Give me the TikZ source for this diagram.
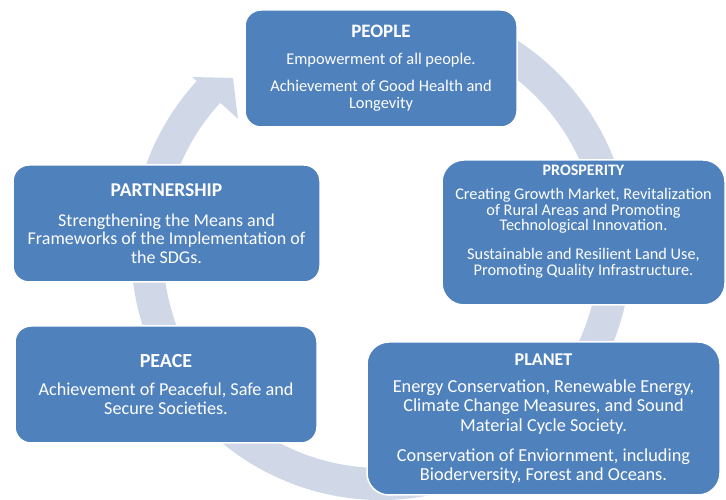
\documentclass[tikz,border=0pt]{standalone}
\usepackage{fontspec}
\setmainfont{Carlito}
\usetikzlibrary{calc,positioning}
\definecolor{boxblue}{HTML}{4F81BD}
\definecolor{ringblue}{HTML}{D0D8E8}
\newcommand{\goaltitle}[2]{{\fontsize{#1}{#1}\selectfont\bfseries #2}}
\tikzset{
	every node/.style={
		font=\fontsize{16.4}{17}\selectfont
	},
	goal/.style={
		shape=rectangle,
		fill=boxblue,
		draw=white,
		line width=1.5pt,
		text=white,
		align=center,
		inner sep=0pt,
		rounded corners=16pt
	},
	big goal/.style={
		goal,
		rounded corners=22pt,
		font=\fontsize{18.3}{19.5}\selectfont
	},
	ring/.style={
		fill=ringblue
	}
}

\begin{document}
\begin{tikzpicture}[x=1pt,y=1pt]
  \useasboundingbox (0,0) rectangle (726,500);
  \coordinate (ctr) at (381,250);

  % cycle arrow behind the boxes
  \fill[ring] ($(ctr)+(62:250pt)$) arc[start angle=62, end angle=-222.5, radius=250pt]
    -- ($(ctr)+(137.5:256pt)$) -- ($(ctr)+(130.7:227pt)$) -- ($(ctr)+(137.5:194pt)$)
    -- ($(ctr)+(137.5:218pt)$) arc[start angle=-222.5, end angle=62, radius=218pt] -- cycle;

  \node[goal, minimum width=272pt, minimum height=117pt] (people) at (381,431.5)
    {\goaltitle{19}{PEOPLE}\\[10pt]
     Empowerment of all people.\\[10pt]
     Achievement of Good Health and\\Longevity};
  \node[goal, rounded corners=22pt, minimum width=283pt, minimum height=145pt,
        font=\fontsize{16.3}{15.5}\selectfont] (prosperity) at (583.5,267.5)
    {\goaltitle{16}{PROSPERITY}\\[8.5pt]
     Creating Growth Market, Revitalization\\of Rural Areas and Promoting\\Technological Innovation.\\[13.5pt]
     Sustainable and Resilient Land Use,\\Promoting Quality Infrastructure.\\[9pt]\mbox{}};
  \node[big goal, rounded corners=16pt, minimum width=307pt, minimum height=117pt,
        font=\fontsize{18}{18.5}\selectfont] (partnership) at (166.5,276.5)
    {\goaltitle{19.5}{PARTNERSHIP}\\[11.5pt]
     Strengthening the Means and\\Frameworks of the Implementation of\\the SDGs.};
  \node[big goal, rounded corners=16pt, minimum width=302pt, minimum height=117pt,
        font=\fontsize{18.2}{19}\selectfont] (peace) at (166,115.5)
    {\goaltitle{20}{PEACE}\\[9pt]
     Achievement of Peaceful, Safe and\\Secure Societies.};
  \node[big goal, minimum width=353pt, minimum height=153pt] (planet) at (543.5,81.5)
    {\goaltitle{18}{PLANET}\\[7.5pt]
     Energy Conservation, Renewable Energy,\\Climate Change Measures, and Sound\\Material Cycle Society.\\[10.5pt]
     Conservation of Enviornment, including\\Bioderversity, Forest and Oceans.};
\end{tikzpicture}
\end{document}
